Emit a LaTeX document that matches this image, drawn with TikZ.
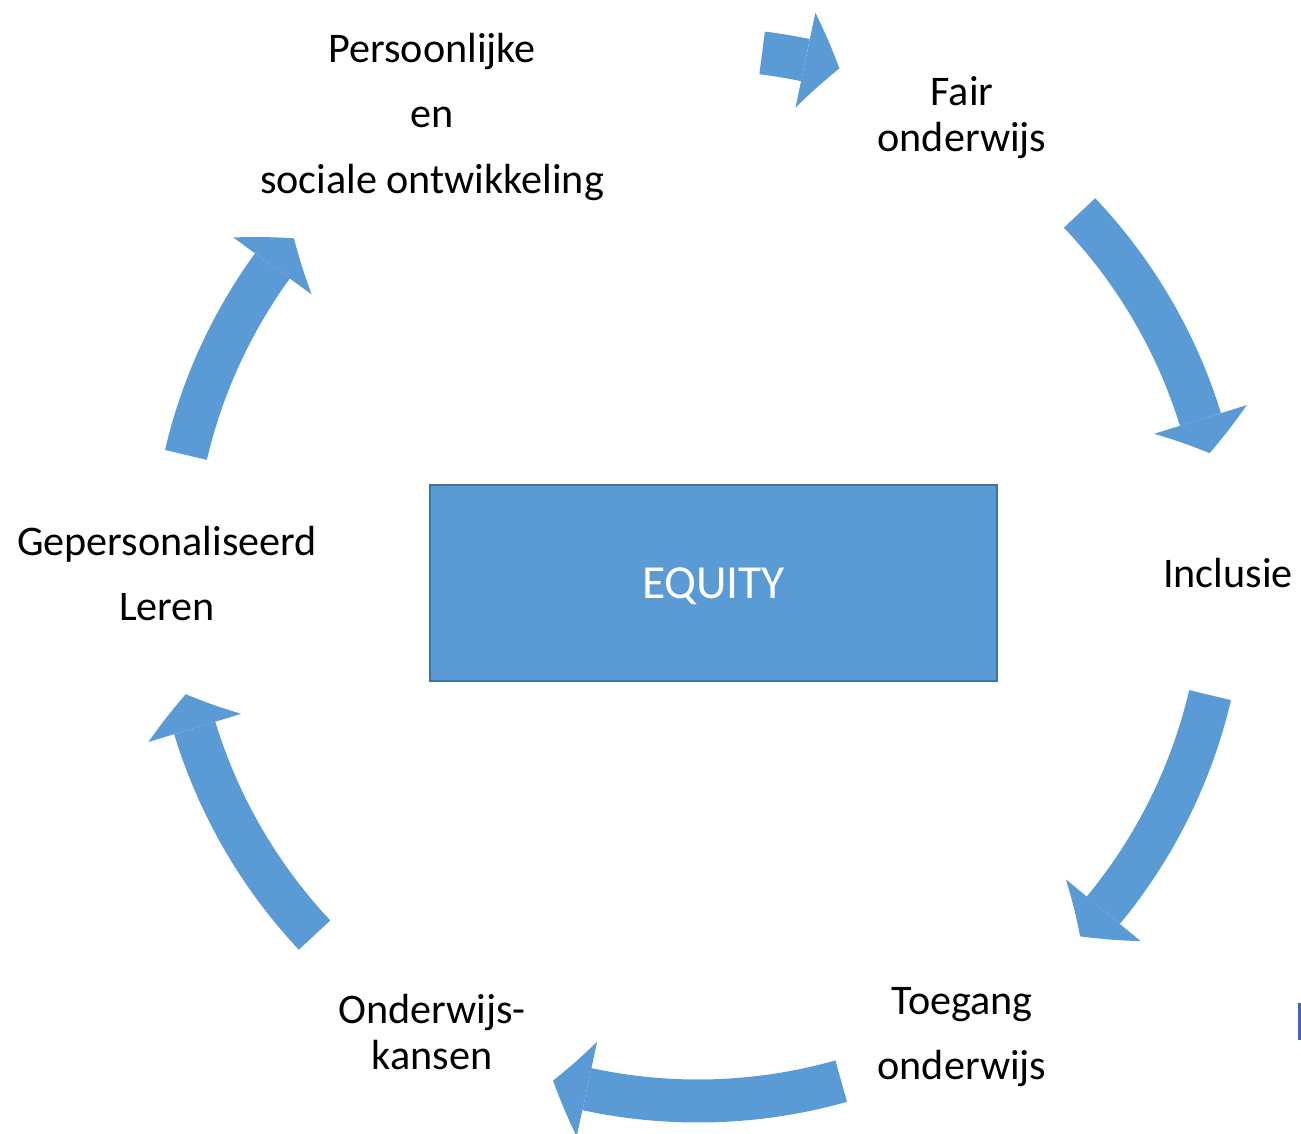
\documentclass[tikz,border=0pt]{standalone}
\usepackage{fontspec}
\setmainfont{Carlito}
\usetikzlibrary{arrows.meta,bending,calc}
\definecolor{flowblue}{HTML}{5B9BD5}
\definecolor{boxedge}{HTML}{41719C}
\definecolor{markblue}{HTML}{4464C4}

\begin{document}
\begin{tikzpicture}[
        x=0.02cm, y=0.02cm,
        flow/.style={draw=flowblue, line width=0.86cm,
            -{Triangle[width=1.94cm, length=0.7cm, line width=0pt, bend]}},
        topic/.style={font=\fontsize{24}{37}\selectfont, align=center, inner sep=0pt, anchor=base},
        topic_tight/.style={font=\fontsize{24}{26}\selectfont, align=center, inner sep=0pt, anchor=base},
        core/.style={draw=boxedge, fill=flowblue, line width=0.04cm, text=white, text depth=0pt,
            minimum width=11.34cm, minimum height=3.92cm, font=\fontsize{27}{30}\selectfont}
    ]
    \useasboundingbox (0,0) rectangle (1301,-1133);

    % Centre
    \node[core] (equity) at (713.5,-583) {EQUITY};
    \coordinate (hub) at (698,-575);

    % Labels round the cycle (anchored at the last baseline)
    \node[topic] (persoon) at (432,-193) {Persoonlijke\\en\\sociale ontwikkeling};
    \node[topic_tight] (fair) at (962,-151) {Fair\\onderwijs};
    \node[topic] (inclusie) at (1228,-587) {Inclusie};
    \node[topic] (toegang) at (962,-1079) {Toegang\\onderwijs};
    \node[topic_tight] (kansen) at (432,-1069) {Onderwijs-\\kansen};
    \node[topic] (leren) at (167,-620) {Gepersonaliseerd\\Leren};

    % Arrow tails on the circle
    \coordinate (a1) at ($(hub)+(83:526)$);
    \coordinate (a2) at ($(hub)+(43.5:526)$);
    \coordinate (a3) at ($(hub)+(-13.2:526)$);
    \coordinate (a4) at ($(hub)+(-74.2:526)$);
    \coordinate (a5) at ($(hub)+(-136.8:526)$);
    \coordinate (a6) at ($(hub)+(166.8:526)$);

    \draw[flow] (a1) arc[start angle=83, end angle=74.4, radius=526];
    \draw[flow] (a2) arc[start angle=43.5, end angle=13.4, radius=526];
    \draw[flow] (a3) arc[start angle=-13.2, end angle=-43.4, radius=526];
    \draw[flow] (a4) arc[start angle=-74.2, end angle=-106, radius=526];
    \draw[flow] (a5) arc[start angle=-136.8, end angle=-166.9, radius=526];
    \draw[flow] (a6) arc[start angle=166.8, end angle=140.2, radius=526];

    % Edge mark
    \fill[markblue] (1298,-1003) rectangle (1301,-1040);

\end{tikzpicture}
\end{document}
